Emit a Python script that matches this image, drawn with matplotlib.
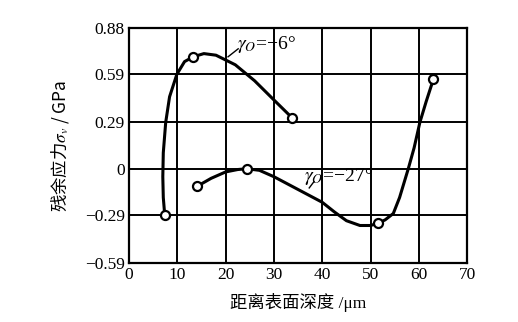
import numpy as np
import matplotlib
matplotlib.use("Agg")
import matplotlib.pyplot as plt

plt.rcParams['font.family'] = ['Liberation Serif', 'Noto Sans CJK SC']
plt.rcParams['mathtext.fontset'] = 'stix'

# measured points (depth um, residual stress GPa)
pts6_x = [7.4, 13.3, 33.7]
pts6_y = [-0.29, 0.70, 0.32]
pts27_x = [14.1, 24.4, 51.6, 63.0]
pts27_y = [-0.11, 0.0, -0.34, 0.56]

# hand drawn curves
curve6_x = [7.4, 7.1, 7.0, 7.1, 7.6, 8.4, 9.9, 11.5, 13.3, 15.5, 18.0, 22.0, 26.0, 30.0, 33.7]
curve6_y = [-0.29, -0.18, -0.05, 0.10, 0.29, 0.45, 0.59, 0.67, 0.70, 0.72, 0.71, 0.65, 0.55, 0.43, 0.32]
curve27_x = [14.1, 17.0, 20.0, 22.5, 24.4, 27.0, 30.0, 35.0, 40.0, 42.5, 45.0, 47.8, 50.0, 51.6, 53.0,
             54.7, 56.0, 57.8, 59.0, 60.2, 61.5, 63.0]
curve27_y = [-0.11, -0.06, -0.02, -0.005, 0.0, -0.01, -0.05, -0.13, -0.21, -0.27, -0.325, -0.355, -0.355,
             -0.34, -0.32, -0.28, -0.18, 0.0, 0.13, 0.29, 0.42, 0.56]

xticks = [0, 10, 20, 30, 40, 50, 60, 70]
yticks = [-0.59, -0.29, 0, 0.29, 0.59, 0.88]
ytick_labels = ['\u22120.59', '\u22120.29', '0', '0.29', '0.59', '0.88']

fig = plt.figure(figsize=(5.18, 3.22), dpi=100)
ax = fig.add_axes([0.249, 0.183, 0.653, 0.73])

ax.plot(curve6_x, curve6_y, color='black', lw=2.2)
ax.plot(curve27_x, curve27_y, color='black', lw=2.2)
ax.plot(pts6_x, pts6_y, 'o', ms=6.5, mfc='white', mec='black', mew=1.6)
ax.plot(pts27_x, pts27_y, 'o', ms=6.5, mfc='white', mec='black', mew=1.6)

ax.set_xlim(0, 70)
ax.set_ylim(-0.59, 0.88)
ax.set_xticks(xticks)
ax.set_yticks(yticks)
ax.set_yticklabels(ytick_labels)
ax.tick_params(length=0, labelsize=12.5, pad=3)
ax.grid(True, color='black', lw=1.4)
for s in ax.spines.values():
    s.set_linewidth(1.6)

# curve labels with leader strokes
ax.plot([20.5, 22.6], [0.70, 0.75], color='black', lw=1)
ax.text(22.3, 0.78, '$\\gamma_O$=\u22126\u00b0', fontsize=14, va='center', ha='left')
ax.plot([37.3, 38.3], [-0.12, -0.08], color='black', lw=1)
ax.text(36.3, -0.05, '$\\gamma_O$=\u221227\u00b0', fontsize=14, va='center', ha='left')

ax.set_xlabel('距离表面深度 /μm', fontsize=12.5, labelpad=7)
ax.set_ylabel('残余应力$\\sigma_v$ / GPa', fontsize=12.5, labelpad=10, family='Noto Sans CJK SC')

fig.savefig('out.png', dpi=100)
